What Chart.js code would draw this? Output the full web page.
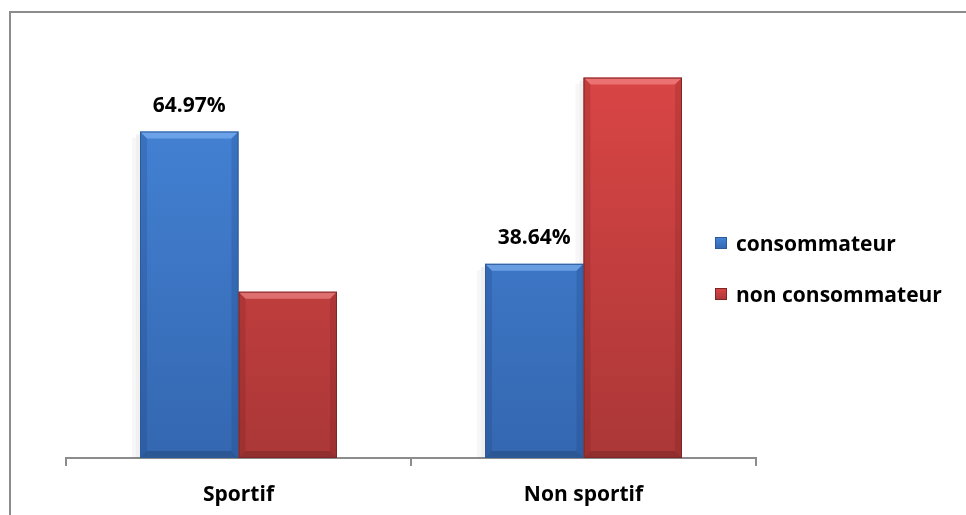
<!DOCTYPE html>
<html>
<head>
<meta charset="utf-8">
<script src="https://cdn.jsdelivr.net/npm/chart.js@4.4.1/dist/chart.umd.min.js"></script>
<style>
  html, body { margin: 0; padding: 0; background: #fff; }
  #wrap { position: relative; width: 966px; height: 515px; overflow: hidden; }
  #frame { position: absolute; left: 9px; top: 11px; width: 960px; height: 510px;
           border-top: 2px solid #8c8c8c; border-left: 2px solid #8c8c8c; }
  #graph { position: absolute; left: 0; top: 0; }
  .legend { position: absolute; left: 715px; top: 0; font: bold 21px "Open Sans", sans-serif; color: #000; }
  .legend div { position: absolute; white-space: nowrap; height: 26px; display: flex; align-items: center; }
  .legend span { display: inline-block; width: 12px; height: 12px; margin-right: 9px; }
</style>
</head>
<body>
<div id="wrap">
  <div id="frame"></div>
  <canvas id="graph" width="966" height="525"></canvas>
  <div class="legend" id="legend"></div>
</div>
<script>
const categories = ["Sportif", "Non sportif"];
const series_names = ["consommateur", "non consommateur"];
const consommateur = [64.97, 38.64];
const non_consommateur = [33.1, 75.7];
// only the blue bars carry a printed value
const value_labels = ["64.97%", "38.64%"];

const FONT = "'Open Sans', sans-serif";

// face colours: top / bottom of each bar, plus edge colour
const palette = [
  { top: "#4686da", bottom: "#3467b0", edge: "#2c5a98", light: "rgba(150,195,255,0.5)", dark: "rgba(20,50,110,0.18)" },
  { top: "#dc4646", bottom: "#ab3737", edge: "#7e2525", light: "rgba(255,160,160,0.5)", dark: "rgba(100,20,20,0.18)" }
];

function faceGradient(i) {
  return (c) => {
    const area = c.chart.chartArea;
    if (!area) return palette[i].top;
    const g = c.chart.ctx.createLinearGradient(0, area.top, 0, area.bottom);
    g.addColorStop(0, palette[i].top);
    g.addColorStop(1, palette[i].bottom);
    return g;
  };
}

// bevel + shadow around each bar, drawn from the bar element geometry
const bevel = {
  id: "bevel",
  beforeDatasetsDraw(chart) {
    const ctx = chart.ctx;
    ctx.save();
    chart.data.datasets.forEach((ds, i) => {
      chart.getDatasetMeta(i).data.forEach((bar) => {
        const l = bar.x - bar.width / 2, t = bar.y;
        ctx.fillStyle = "rgba(0,0,0,0.06)";
        ctx.fillRect(l - 4, t + 3, 4, bar.base - t - 3);
        ctx.fillStyle = "rgba(0,0,0,0.03)";
        ctx.fillRect(l - 8, t + 6, 4, bar.base - t - 6);
      });
    });
    ctx.restore();
  },
  afterDatasetsDraw(chart) {
    const ctx = chart.ctx;
    const b = 7;
    ctx.save();
    chart.data.datasets.forEach((ds, i) => {
      const p = palette[i];
      chart.getDatasetMeta(i).data.forEach((bar) => {
        const l = bar.x - bar.width / 2, r = bar.x + bar.width / 2;
        const t = bar.y, bt = bar.base;
        // top bevel
        ctx.fillStyle = p.light;
        ctx.beginPath();
        ctx.moveTo(l, t); ctx.lineTo(r, t); ctx.lineTo(r - b, t + b); ctx.lineTo(l + b, t + b);
        ctx.closePath(); ctx.fill();
        // side bevels
        ctx.fillStyle = p.dark;
        ctx.beginPath();
        ctx.moveTo(l, t); ctx.lineTo(l + b, t + b); ctx.lineTo(l + b, bt - b); ctx.lineTo(l, bt);
        ctx.closePath(); ctx.fill();
        ctx.beginPath();
        ctx.moveTo(r, t); ctx.lineTo(r - b, t + b); ctx.lineTo(r - b, bt - b); ctx.lineTo(r, bt);
        ctx.closePath(); ctx.fill();
        // bottom bevel
        ctx.fillStyle = "rgba(0,0,0,0.15)";
        ctx.beginPath();
        ctx.moveTo(l, bt); ctx.lineTo(l + b, bt - b); ctx.lineTo(r - b, bt - b); ctx.lineTo(r, bt);
        ctx.closePath(); ctx.fill();
        ctx.strokeStyle = p.edge;
        ctx.lineWidth = 1;
        ctx.strokeRect(l + 0.5, t + 0.5, bar.width - 1, bt - t - 1);
      });
    });
    ctx.restore();
  }
};

// value text above the consommateur bars
const valueLabels = {
  id: "valueLabels",
  afterDatasetsDraw(chart) {
    const ctx = chart.ctx;
    ctx.save();
    ctx.font = "bold 21px " + FONT;
    ctx.fillStyle = "#000";
    ctx.textAlign = "center";
    ctx.textBaseline = "middle";
    chart.getDatasetMeta(0).data.forEach((bar, j) => {
      ctx.fillText(value_labels[j], bar.x, bar.y - 26);
    });
    ctx.restore();
  }
};

const ctx = document.getElementById("graph").getContext("2d");
new Chart(ctx, {
  type: "bar",
  data: {
    labels: categories,
    datasets: [
      { label: series_names[0], data: consommateur, backgroundColor: faceGradient(0), borderWidth: 0 },
      { label: series_names[1], data: non_consommateur, backgroundColor: faceGradient(1), borderWidth: 0 }
    ]
  },
  options: {
    responsive: false,
    animation: false,
    events: [],
    layout: { padding: { left: 66, right: 210, top: 56, bottom: 0 } },
    datasets: { bar: { categoryPercentage: 0.571, barPercentage: 1 } },
    plugins: { legend: { display: false }, tooltip: { enabled: false } },
    scales: {
      x: {
        grid: { offset: true, drawOnChartArea: false, drawTicks: true, tickLength: 8, color: "#8c8c8c", lineWidth: 2 },
        border: { display: true, color: "#8c8c8c", width: 2 },
        ticks: { color: "#000", padding: 19, font: { family: FONT, size: 21, weight: "bold", lineHeight: 1 } }
      },
      y: { display: false, min: 0, max: 80 }
    }
  },
  plugins: [bevel, valueLabels]
});

// legend beside the plot
const legend = document.getElementById("legend");
series_names.forEach((name, i) => {
  const row = document.createElement("div");
  row.style.top = (230 + i * 51) + "px";
  const sw = document.createElement("span");
  sw.style.background = "linear-gradient(" + palette[i].top + "," + palette[i].bottom + ")";
  sw.style.boxShadow = "inset 0 0 0 1px " + palette[i].edge;
  row.appendChild(sw);
  row.appendChild(document.createTextNode(name));
  legend.appendChild(row);
});
</script>
</body>
</html>
